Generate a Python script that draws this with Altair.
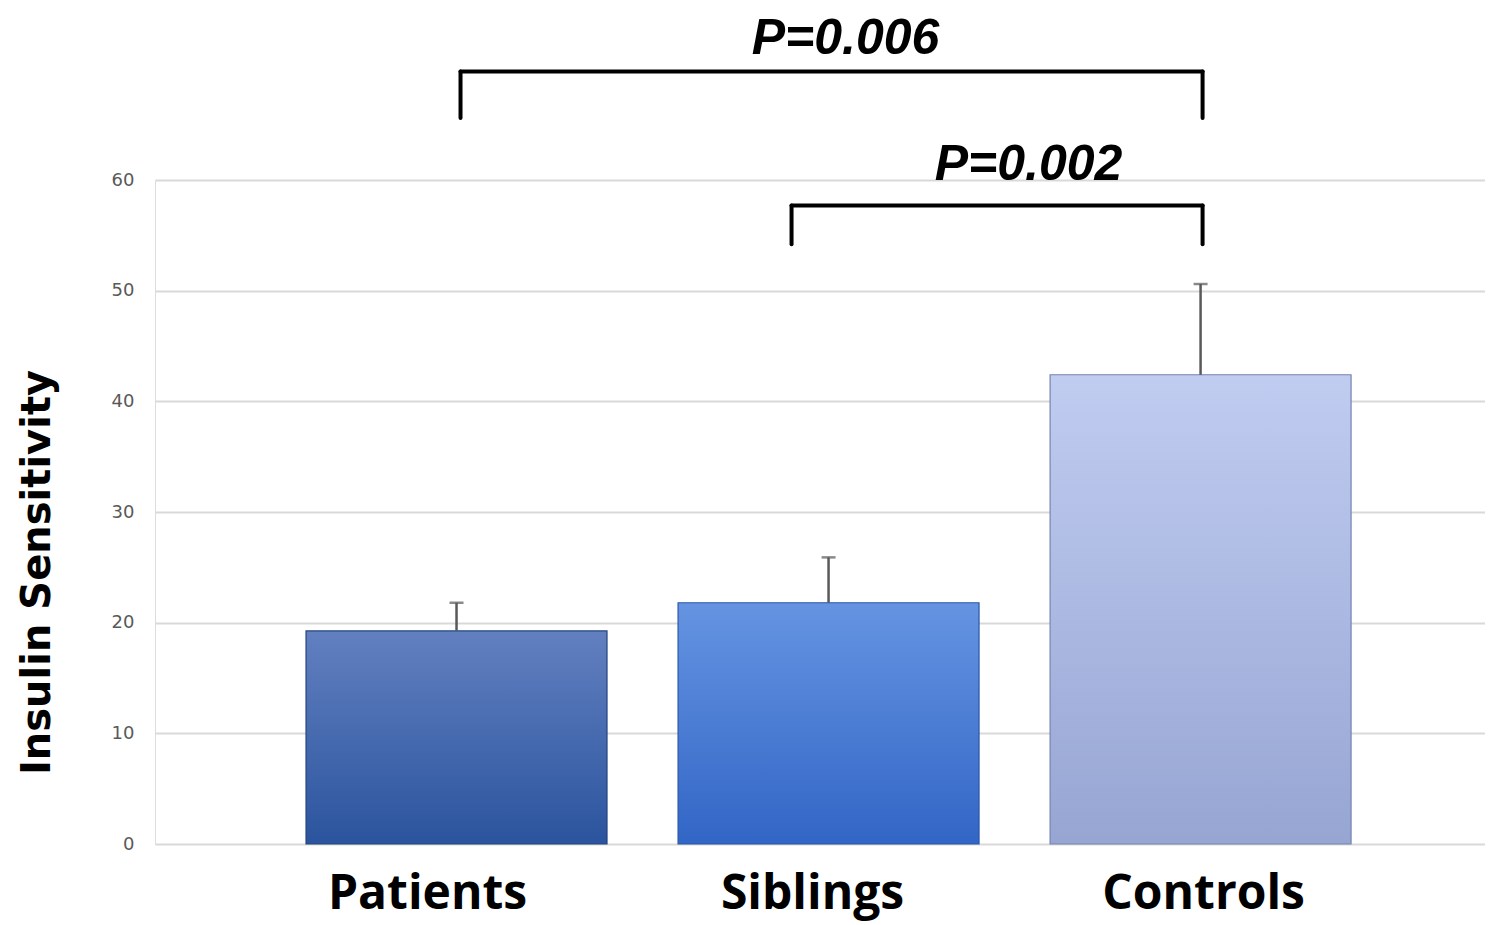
import altair as alt
import pandas as pd

# ---- data ----
groups = ["Patients", "Siblings", "Controls"]
means = [19.25, 21.8, 42.4]
errors = [2.55, 4.1, 8.2]

# gradient colours (top, bottom, edge) per bar
grad_top = ["#6280c0", "#6594e2", "#c0ccf0"]
grad_bottom = ["#2b549e", "#3266c6", "#97a5d3"]
edge = ["#22447f", "#2a56a8", "#7583b0"]

# significance brackets
p_labels = ["P=0.006", "P=0.002"]
br_from = ["Patients", "Siblings"]
br_to = ["Controls", "Controls"]
br_top = [69.8, 57.7]
br_end = [65.6, 54.2]
p_y = [71.4, 60.0]
# pixel nudges (style): left end, right end, label
br_from_dx = [4, -37]
br_to_dx = [2, 2]
p_anchor = ["Siblings", "Controls"]
p_dx = [17, -172]

df = pd.DataFrame({"group": groups, "mean": means, "err": errors})
df["hi"] = df["mean"] + df["err"]

x_scale = alt.Scale(domain=groups, paddingInner=0.191, paddingOuter=0.383, align=0.53)
y_scale = alt.Scale(domain=[0, 60])

label_shift = {"expr": "datum.value == 'Patients' ? -29 : (datum.value == 'Siblings' ? -16 : 3)"}

x_enc = alt.X("group:N", scale=x_scale, sort=groups,
              axis=alt.Axis(title=None, labelAngle=0, labelFont="Open Sans",
                            labelFontWeight="bold", labelFontSize=48, labelLimit=0,
                            labelColor="#000000", labelPadding=26,
                            labelOffset=label_shift,
                            domain=False, ticks=False, grid=False))
y_enc = alt.Y("mean:Q", scale=y_scale,
              axis=alt.Axis(title="Insulin Sensitivity", values=[0, 10, 20, 30, 40, 50, 60],
                            labelFont="DejaVu Sans", labelFontSize=18, labelColor="#595959",
                            labelPadding=21, ticks=False, domain=False,
                            gridColor="#d9d9d9", gridWidth=2,
                            titleFont="DejaVu Sans", titleFontSize=40, titleFontWeight="bold",
                            titleColor="#000000", titleAngle=270, titleAlign="center",
                            titleBaseline="bottom", titleX=-98, titleY=392))

base = alt.Chart(df)

layers = []
for i, g in enumerate(groups):
    grad = {"gradient": "linear", "x1": 0, "y1": 0, "x2": 0, "y2": 1,
            "stops": [{"offset": 0, "color": grad_top[i]},
                      {"offset": 1, "color": grad_bottom[i]}]}
    layers.append(
        base.transform_filter(alt.datum.group == g)
        .mark_bar(fill=grad, stroke=edge[i], strokeWidth=1.2)
        .encode(x=x_enc, y=y_enc)
    )

err_rule = base.mark_rule(color="#595959", strokeWidth=2.5).encode(
    x=alt.X("group:N", scale=x_scale, sort=groups), y="mean:Q", y2="hi:Q")
err_cap = base.mark_tick(color="#595959", size=14, thickness=2.5).encode(
    x=alt.X("group:N", scale=x_scale, sort=groups), y=alt.Y("hi:Q", scale=y_scale))

layers += [err_rule, err_cap]

for k in range(len(p_labels)):
    bdf = pd.DataFrame({"a": [br_from[k]], "b": [br_to[k]], "top": [br_top[k]],
                        "end": [br_end[k]], "py": [p_y[k]], "anchor": [p_anchor[k]],
                        "label": [p_labels[k]]})
    bc = alt.Chart(bdf)
    horiz = bc.mark_rule(color="black", strokeWidth=4, strokeCap="round",
                         xOffset=br_from_dx[k], x2Offset=br_to_dx[k]).encode(
        x=alt.X("a:N", scale=x_scale, sort=groups), x2="b:N", y=alt.Y("top:Q", scale=y_scale))
    left = bc.mark_rule(color="black", strokeWidth=4, strokeCap="round",
                        xOffset=br_from_dx[k]).encode(
        x=alt.X("a:N", scale=x_scale, sort=groups), y=alt.Y("top:Q", scale=y_scale), y2="end:Q")
    right = bc.mark_rule(color="black", strokeWidth=4, strokeCap="round",
                         xOffset=br_to_dx[k]).encode(
        x=alt.X("b:N", scale=x_scale, sort=groups), y=alt.Y("top:Q", scale=y_scale), y2="end:Q")
    txt = bc.mark_text(font="Liberation Sans", fontWeight="bold", fontStyle="italic", fontSize=50,
                       color="black", align="center", baseline="alphabetic", dx=p_dx[k]).encode(
        x=alt.X("anchor:N", scale=x_scale, sort=groups), y=alt.Y("py:Q", scale=y_scale),
        text="label:N")
    layers += [horiz, left, right, txt]

chart = alt.layer(*layers).properties(
    width=1330, height=664,
    autosize=alt.AutoSizeParams(type="none"),
    padding={"left": 147, "top": 172, "right": 0, "bottom": 81},
).configure_view(stroke=None).configure(background="white")

chart.save("out.html", embed_options={"renderer": "svg", "actions": False})
